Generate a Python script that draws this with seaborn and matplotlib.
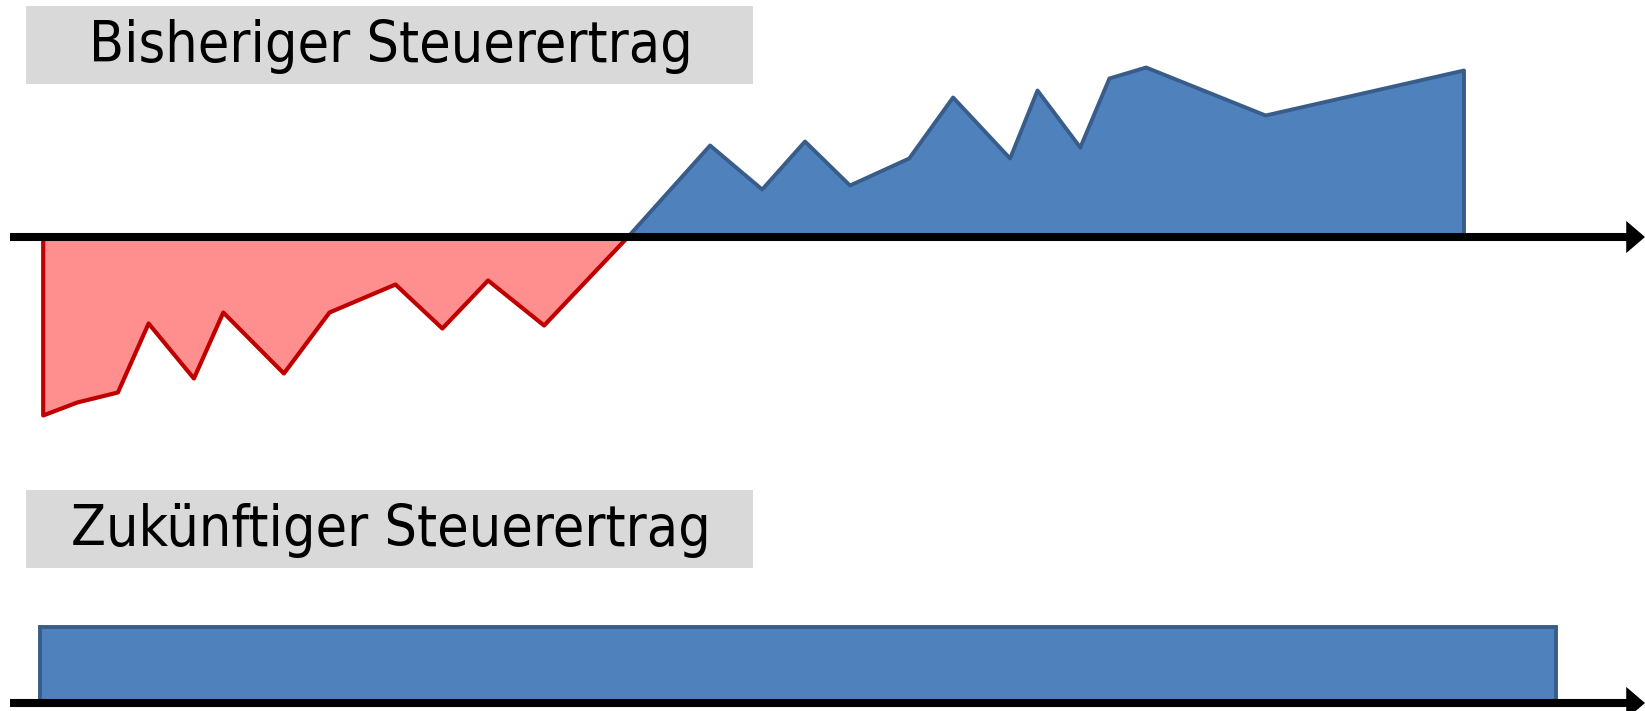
import numpy as np
import matplotlib
matplotlib.use("Agg")
import matplotlib.pyplot as plt
from matplotlib.patches import Rectangle
import seaborn as sns

sns.set_theme(style="white")
plt.rcParams["font.family"] = ["DejaVu Sans"]

# Past tax revenue over time (negative = loss years, positive = profit years)
periods = [4.27, 7.68, 11.74, 14.81, 19.34, 22.28, 28.34, 32.9, 39.5, 44.19,
           48.76, 54.36, 62.7, 70.96, 76.17, 80.45, 84.95, 90.87, 95.26,
           100.96, 103.7, 107.98, 110.89, 114.56, 126.51, 146.35]
revenue = [-17.8, -16.5, -15.5, -8.6, -14.1, -7.5, -13.6, -7.5, -4.7, -9.1,
           -4.3, -8.8, 0.0, 9.2, 4.8, 9.6, 5.2, 7.9, 14.0,
           7.9, 14.7, 9.0, 15.9, 17.0, 12.2, 16.7]

# Future tax revenue: constant level over the same horizon
future_start = 4.0
future_end = 155.6
future_level = 7.6

titles = ["Bisheriger Steuerertrag", "Zukünftiger Steuerertrag"]

RED_FILL, RED_EDGE = "#FF8F8F", "#C00000"
BLUE_FILL, BLUE_EDGE = "#4F81BD", "#385D8A"


def draw_axis_arrow(ax):
    ax.annotate("", xy=(164.5, 0), xytext=(1.0, 0),
                arrowprops=dict(arrowstyle="-|>,head_length=0.28,head_width=0.24",
                                lw=5.8, color="black",
                                mutation_scale=22, shrinkA=0, shrinkB=0,
                                capstyle="butt", joinstyle="miter"),
                zorder=5)


fig = plt.figure(figsize=(16.45, 7.11), dpi=100)

# --- upper chart ---
ax1 = fig.add_axes([0, 0, 1, 1])
ax1.set_xlim(0, 164.5)
ax1.set_ylim(-47.4, 23.7)
x = np.array(periods)
y = np.array(revenue)
ax1.fill_between(x, y, 0, where=y <= 0, interpolate=True,
                 facecolor=RED_FILL, edgecolor=RED_EDGE, linewidth=3.0,
                 joinstyle="round", zorder=2)
ax1.fill_between(x, y, 0, where=y >= 0, interpolate=True,
                 facecolor=BLUE_FILL, edgecolor=BLUE_EDGE, linewidth=2.8,
                 joinstyle="round", zorder=2)
draw_axis_arrow(ax1)
ax1.axis("off")

# --- lower chart ---
ax2 = fig.add_axes([0, 0, 1, 1])
ax2.set_xlim(0, 164.5)
ax2.set_ylim(-0.8, 70.3)
ax2.patch.set_alpha(0)
ax2.bar([future_start], [future_level], width=future_end - future_start,
        align="edge", color=BLUE_FILL, edgecolor=BLUE_EDGE, linewidth=2.8,
        zorder=2)
draw_axis_arrow(ax2)
ax2.axis("off")

# --- title boxes ---
ax3 = fig.add_axes([0, 0, 1, 1])
ax3.set_xlim(0, 1645)
ax3.set_ylim(711, 0)
ax3.patch.set_alpha(0)
ax3.axis("off")
for (top, bottom), text_x, label in zip([(6, 84), (490, 568)], [89, 71], titles):
    ax3.add_patch(Rectangle((26, top), 727, bottom - top,
                            facecolor="#D9D9D9", edgecolor="none"))
    ax3.text(text_x, (top + bottom) / 2 + 2, label, fontsize=41,
             fontstretch="condensed", color="black", ha="left", va="center")

fig.savefig("out.png", dpi=100)
